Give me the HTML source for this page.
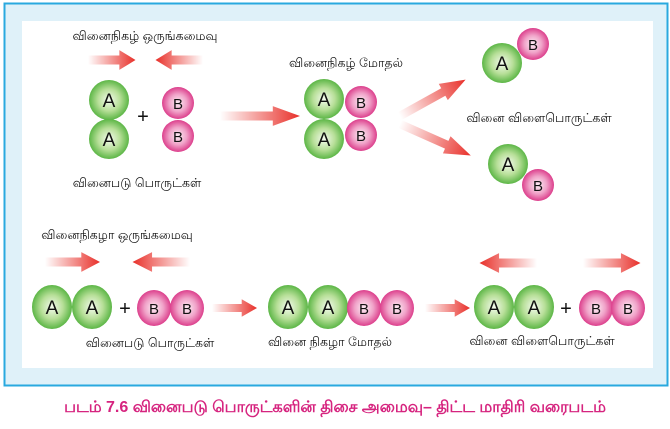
<!DOCTYPE html>
<html><head><meta charset="utf-8"><style>
body{margin:0;width:670px;height:424px;background:#fff;overflow:hidden}
text{font-family:"Liberation Sans","Noto Sans CJK SC",sans-serif}
</style></head><body>
<svg width="670" height="424" viewBox="0 0 670 424" xmlns="http://www.w3.org/2000/svg">
<defs>
<radialGradient id="ga" cx="50%" cy="50%" r="50%"><stop offset="0" stop-color="#f4fbee"/><stop offset="0.55" stop-color="#b7df98"/><stop offset="1" stop-color="#5cb646"/></radialGradient>
<radialGradient id="gb" cx="50%" cy="50%" r="50%"><stop offset="0" stop-color="#fdeef5"/><stop offset="0.55" stop-color="#f0a2c8"/><stop offset="1" stop-color="#dc3f8c"/></radialGradient>
<linearGradient id="ar" x1="0" x2="1" y1="0" y2="0"><stop offset="0" stop-color="#e8302a" stop-opacity="0"/><stop offset="1" stop-color="#e8302a"/></linearGradient>
<g id="arr"><path d="M0,-5 L33,-5 L33,-11 L50,0 L33,11 L33,5 L0,5Z" fill="url(#ar)"/></g>
</defs>
<rect x="4.5" y="3.5" width="663" height="382" fill="#dff1f9" stroke="#29a9df" stroke-width="2"/>
<rect x="22" y="21" width="631" height="347" fill="#fff"/>
<g font-size="12.5" fill="#111" text-anchor="middle">
<text x="145" y="40">வினைநிகழ் ஒருங்கமைவு</text>
<text x="137" y="187">வினைபடு பொருட்கள்</text>
<text x="346" y="67">வினைநிகழ் மோதல்</text>
<text x="539" y="122">வினை விளைபொருட்கள்</text>
<text x="117" y="239">வினைநிகழா ஒருங்கமைவு</text>
<text x="150" y="347">வினைபடு பொருட்கள்</text>
<text x="330" y="346">வினை நிகழா மோதல்</text>
<text x="542" y="345">வினை விளைபொருட்கள்</text>
</g>
<g transform="translate(88,60) scale(0.95,0.9)"><use href="#arr"/></g>
<g transform="translate(203,60) scale(-0.95,0.9)"><use href="#arr"/></g>
<g transform="translate(220,116) scale(1.6,0.9)"><use href="#arr"/></g>
<g transform="translate(400,116) rotate(-29) scale(1.5,0.85)"><use href="#arr"/></g>
<g transform="translate(400,124) rotate(24) scale(1.55,0.85)"><use href="#arr"/></g>
<g transform="translate(45,262) scale(1.1,0.9)"><use href="#arr"/></g>
<g transform="translate(190,262) scale(-1.15,0.9)"><use href="#arr"/></g>
<g transform="translate(212,308) scale(0.9,0.8)"><use href="#arr"/></g>
<g transform="translate(425,308) scale(0.9,0.8)"><use href="#arr"/></g>
<g transform="translate(537,263) scale(-1.15,0.9)"><use href="#arr"/></g>
<g transform="translate(583,263) scale(1.15,0.9)"><use href="#arr"/></g>
<g font-size="19" fill="#111" text-anchor="middle">
<circle cx="109" cy="100" r="20" fill="url(#ga)"/><text x="109" y="107">A</text>
<circle cx="109" cy="139" r="20" fill="url(#ga)"/><text x="109" y="146">A</text>
<circle cx="178" cy="103" r="16" fill="url(#gb)"/><text x="178" y="109" font-size="15">B</text>
<circle cx="178" cy="136" r="16" fill="url(#gb)"/><text x="178" y="142" font-size="15">B</text>
<text x="143" y="123" font-size="20">+</text>
<circle cx="324" cy="99" r="20" fill="url(#ga)"/><text x="324" y="106">A</text>
<circle cx="324" cy="139" r="20" fill="url(#ga)"/><text x="324" y="146">A</text>
<circle cx="361" cy="102" r="16" fill="url(#gb)"/><text x="361" y="108" font-size="15">B</text>
<circle cx="361" cy="135" r="16" fill="url(#gb)"/><text x="361" y="141" font-size="15">B</text>
<circle cx="533" cy="44" r="16" fill="url(#gb)"/><text x="533" y="50" font-size="15">B</text>
<circle cx="502" cy="63" r="20" fill="url(#ga)"/><text x="502" y="70">A</text>
<circle cx="508" cy="164" r="20" fill="url(#ga)"/><text x="508" y="171">A</text>
<circle cx="538" cy="185" r="16" fill="url(#gb)"/><text x="538" y="191" font-size="15">B</text>

<ellipse cx="52" cy="307" rx="20" ry="22" fill="url(#ga)"/><text x="52" y="314">A</text>
<ellipse cx="92" cy="307" rx="20" ry="22" fill="url(#ga)"/><text x="92" y="314">A</text>
<text x="125" y="315" font-size="20">+</text>
<ellipse cx="154" cy="308" rx="17" ry="18" fill="url(#gb)"/><text x="154" y="314" font-size="15">B</text>
<ellipse cx="187" cy="308" rx="17" ry="18" fill="url(#gb)"/><text x="187" y="314" font-size="15">B</text>

<ellipse cx="288" cy="307" rx="20" ry="22" fill="url(#ga)"/><text x="288" y="314">A</text>
<ellipse cx="328" cy="307" rx="20" ry="22" fill="url(#ga)"/><text x="328" y="314">A</text>
<ellipse cx="364" cy="308" rx="17" ry="18" fill="url(#gb)"/><text x="364" y="314" font-size="15">B</text>
<ellipse cx="397" cy="308" rx="17" ry="18" fill="url(#gb)"/><text x="397" y="314" font-size="15">B</text>

<ellipse cx="494" cy="307" rx="20" ry="22" fill="url(#ga)"/><text x="494" y="314">A</text>
<ellipse cx="534" cy="307" rx="20" ry="22" fill="url(#ga)"/><text x="534" y="314">A</text>
<text x="566" y="315" font-size="20">+</text>
<ellipse cx="596" cy="308" rx="17" ry="18" fill="url(#gb)"/><text x="596" y="314" font-size="15">B</text>
<ellipse cx="628" cy="308" rx="17" ry="18" fill="url(#gb)"/><text x="628" y="314" font-size="15">B</text>
</g>
<text x="335" y="412" font-size="16" font-weight="bold" fill="#d6247f" text-anchor="middle">படம் 7.6 வினைபடு பொருட்களின் திசை அமைவு– திட்ட மாதிரி வரைபடம்</text>
</svg>
</body></html>
